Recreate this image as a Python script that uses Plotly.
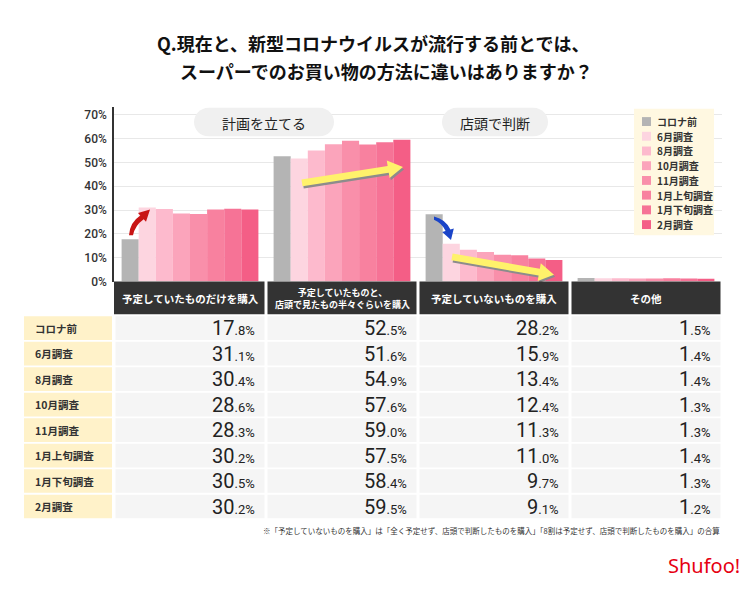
import plotly.graph_objects as go

W, H = 750, 589

# ---------------- data ----------------
categories = ["予定していたものだけを購入",
              "予定していたものと、店頭で見たもの半々ぐらいを購入",
              "予定していないものを購入",
              "その他"]
header_labels = ["予定していたものだけを購入",
                 "予定していたものと、<br>店頭で見たもの半々ぐらいを購入",
                 "予定していないものを購入",
                 "その他"]
periods = ["コロナ前", "6月調査", "8月調査", "10月調査", "11月調査",
           "1月上旬調査", "1月下旬調査", "2月調査"]
v_pre = [17.8, 52.5, 28.2, 1.5]
v_jun = [31.1, 51.6, 15.9, 1.4]
v_aug = [30.4, 54.9, 13.4, 1.4]
v_oct = [28.6, 57.6, 12.4, 1.3]
v_nov = [28.3, 59.0, 11.3, 1.3]
v_jan1 = [30.2, 57.5, 11.0, 1.4]
v_jan2 = [30.5, 58.4, 9.7, 1.3]
v_feb = [30.2, 59.5, 9.1, 1.2]
series = [v_pre, v_jun, v_aug, v_oct, v_nov, v_jan1, v_jan2, v_feb]
colors = ["#B4B4B4", "#FDD5E0", "#FDBACD", "#FBA4BB", "#F98FAA",
          "#F8819F", "#F67396", "#F45E86"]
ytick_vals = [0, 10, 20, 30, 40, 50, 60, 70]
ytick_text = ["0%", "10%", "20%", "30%", "40%", "50%", "60%", "70%"]
title_lines = ["Q.現在と、新型コロナウイルスが流行する前とでは、",
               "スーパーでのお買い物の方法に違いはありますか？"]
group_tags = ["計画を立てる", "店頭で判断"]
footnote = ("※「予定していないものを購入」は「全く予定せず、店頭で判断したものを購入」"
            "「8割は予定せず、店頭で判断したものを購入」の合算")

# ---------------- layout geometry (pixels) ----------------
PX0, PX1 = 114, 722          # plot area x
PY0, PYT = 285, 108          # 0% line, axis top
YMAX = 73.3
SLOT = (PX1 - PX0) / len(categories)
HDR_B = 318
ROW_T, ROW_P, ROW_H = 320, 25.8, 24
LAB_X0, LAB_X1 = 24, 112

CJK = "Noto Sans CJK JP"
NUM = "Roboto"


def px(x):
    return x / W


def py(y):
    return 1 - y / H


def pt(x, y):
    return f"{px(x):.5f},{py(y):.5f}"


fig = go.Figure()
for name, vals, col in zip(periods, series, colors):
    fig.add_trace(go.Bar(x=categories, y=vals, name=name, marker_color=col,
                         marker_line_width=0, showlegend=False,
                         hovertemplate="%{x}<br>" + name + ": %{y}%<extra></extra>"))

shapes = []
annotations = []

# title
annotations.append(dict(text=title_lines[0], x=px(155), y=py(44), xref="paper", yref="paper",
                        xanchor="left", yanchor="middle", showarrow=False,
                        font=dict(family=CJK, size=18, color="#111111", weight="bold")))
annotations.append(dict(text=title_lines[1], x=px(178), y=py(72), xref="paper", yref="paper",
                        xanchor="left", yanchor="middle", showarrow=False,
                        font=dict(family=CJK, size=18, color="#111111", weight="bold")))


# pills
def pill_path(x0, y0, x1, y1):
    r = (y1 - y0) / 2
    k = 0.5523 * r
    ym = (y0 + y1) / 2
    return (f"M {pt(x0 + r, y0)} L {pt(x1 - r, y0)} "
            f"C {pt(x1 - r + k, y0)} {pt(x1, ym - k)} {pt(x1, ym)} "
            f"C {pt(x1, ym + k)} {pt(x1 - r + k, y1)} {pt(x1 - r, y1)} "
            f"L {pt(x0 + r, y1)} "
            f"C {pt(x0 + r - k, y1)} {pt(x0, ym + k)} {pt(x0, ym)} "
            f"C {pt(x0, ym - k)} {pt(x0 + r - k, y0)} {pt(x0 + r, y0)} Z")


for (x0, x1), tag in zip([(194, 334), (442, 548)], group_tags):
    shapes.append(dict(type="path", path=pill_path(x0, 109, x1, 138), xref="paper", yref="paper",
                       fillcolor="#F0F0F0", line=dict(width=0), layer="above"))
    annotations.append(dict(text=tag, x=px((x0 + x1) / 2), y=py(124), xref="paper", yref="paper",
                            showarrow=False, xanchor="center", yanchor="middle",
                            font=dict(family=CJK, size=14, color="#222222")))

# legend box
shapes.append(dict(type="rect", x0=px(634), x1=px(714), y0=py(110), y1=py(238),
                   xref="paper", yref="paper", fillcolor="#FFF8E1", line=dict(width=0), layer="above"))
for i, (name, col) in enumerate(zip(periods, colors)):
    yc = 123 + i * 14.9
    shapes.append(dict(type="rect", x0=px(642), x1=px(651), y0=py(yc - 4.5), y1=py(yc + 4.5),
                       xref="paper", yref="paper", fillcolor=col, line=dict(width=0), layer="above"))
    annotations.append(dict(text=name, x=px(655), y=py(yc), xref="paper", yref="paper",
                            showarrow=False, xanchor="left", yanchor="middle",
                            font=dict(family=CJK, size=10, color="#333333", weight="bold")))


# arrows
def straight_arrow(tail, tip, sw, hw, hl, dx=0, dy=0):
    import math
    tx, ty = tail[0] + dx, tail[1] + dy
    hx, hy = tip[0] + dx, tip[1] + dy
    L = math.hypot(hx - tx, hy - ty)
    ux, uy = (hx - tx) / L, (hy - ty) / L
    nx, ny = -uy, ux
    bx, by = hx - ux * hl, hy - uy * hl
    p = [(tx + nx * sw / 2, ty + ny * sw / 2), (bx + nx * sw / 2, by + ny * sw / 2),
         (bx + nx * hw / 2, by + ny * hw / 2), (hx, hy),
         (bx - nx * hw / 2, by - ny * hw / 2), (bx - nx * sw / 2, by - ny * sw / 2),
         (tx - nx * sw / 2, ty - ny * sw / 2)]
    return "M " + " L ".join(pt(a, b) for a, b in p) + " Z"


for tail, tip in [((302, 185), (403, 169)), ((452, 260), (554, 278))]:
    shapes.append(dict(type="path", path=straight_arrow(tail, tip, 7, 18, 15, 1.2, 2.2),
                       xref="paper", yref="paper", fillcolor="#8C8C8C", line=dict(width=0), layer="above"))
    shapes.append(dict(type="path", path=straight_arrow(tail, tip, 7, 18, 15),
                       xref="paper", yref="paper", fillcolor="#FFF26B", line=dict(width=0), layer="above"))

red_path = (f"M {pt(129, 238)} Q {pt(130, 225)} {pt(140.3, 218.2)} L {pt(138, 215.6)} "
            f"L {pt(150, 212)} L {pt(146, 224.4)} L {pt(143.7, 221.8)} "
            f"Q {pt(135, 228)} {pt(133, 238)} Z")
shapes.append(dict(type="path", path=red_path, xref="paper", yref="paper",
                   fillcolor="#C81414", line=dict(width=0), layer="above"))
blue_path = (f"M {pt(434, 219)} Q {pt(446, 222)} {pt(450.4, 232.3)} L {pt(453.8, 231.3)} "
             f"L {pt(451, 243)} L {pt(442.2, 234.7)} L {pt(445.6, 233.7)} "
             f"Q {pt(442, 226)} {pt(434, 222.5)} Z")
shapes.append(dict(type="path", path=blue_path, xref="paper", yref="paper",
                   fillcolor="#1A44C8", line=dict(width=0), layer="above"))

# header row (x-axis categories)
for i, (cat, lab) in enumerate(zip(categories, header_labels)):
    x0 = PX0 + i * SLOT + (1.5 if i > 0 else 0)
    x1 = PX0 + (i + 1) * SLOT - 1.5
    shapes.append(dict(type="rect", x0=px(x0), x1=px(x1), y0=py(PY0), y1=py(HDR_B),
                       xref="paper", yref="paper", fillcolor="#333333", line=dict(width=0), layer="above"))
    annotations.append(dict(text=lab, x=cat, xref="x", y=py((PY0 + HDR_B) / 2 + 0.5), yref="paper",
                            showarrow=False, xanchor="center", yanchor="middle",
                            font=dict(family=CJK, size=9 if "<br>" in lab else 10.5,
                                      color="white", weight="bold")))

# table body
for r, (name, vals) in enumerate(zip(periods, series)):
    yt = ROW_T + r * ROW_P
    yb = yt + ROW_H
    yc = (yt + yb) / 2
    shapes.append(dict(type="rect", x0=px(LAB_X0), x1=px(LAB_X1), y0=py(yt), y1=py(yb),
                       xref="paper", yref="paper", fillcolor="#FFF2C9", line=dict(width=0), layer="above"))
    annotations.append(dict(text=name, x=px(LAB_X0 + 9), y=py(yc), xref="paper", yref="paper",
                            showarrow=False, xanchor="left", yanchor="middle",
                            font=dict(family=CJK, size=10.5, color="#333333", weight="bold")))
    for i, (cat, v) in enumerate(zip(categories, vals)):
        x0 = PX0 + i * SLOT + 1.5
        x1 = PX0 + (i + 1) * SLOT - 1.5
        shapes.append(dict(type="rect", x0=px(x0), x1=px(x1), y0=py(yt), y1=py(yb),
                           xref="paper", yref="paper", fillcolor="#F5F5F5", line=dict(width=0), layer="above"))
        ip, dp = f"{v:.1f}".split(".")
        annotations.append(dict(text=f"{ip}<span style='font-size:13px'>.{dp}%</span>",
                                x=i + 0.5, xref="x", xshift=-9.5, y=py(yc), yref="paper",
                                showarrow=False, xanchor="right", yanchor="middle",
                                font=dict(family=NUM, size=20, color="#222222")))

# footnote & logo
annotations.append(dict(text=footnote, x=px(722), y=py(537), xref="paper", yref="paper",
                        showarrow=False, xanchor="right", yanchor="middle",
                        font=dict(family=CJK, size=7.5, color="#333333")))
annotations.append(dict(text="Shufoo!", x=px(742), y=py(572), xref="paper", yref="paper",
                        showarrow=False, xanchor="right", yanchor="middle",
                        font=dict(family="Noto Sans", size=20, color="#E60012")))

fig.update_layout(
    width=W, height=H, margin=dict(l=0, r=0, t=0, b=0),
    paper_bgcolor="white", plot_bgcolor="white",
    barmode="group", bargap=0.1, bargroupgap=0,
    shapes=shapes, annotations=annotations,
    xaxis=dict(domain=[px(PX0), px(PX1)], range=[-0.5, 3.5], showticklabels=False,
               showline=False, showgrid=False, zeroline=False, fixedrange=True),
    yaxis=dict(domain=[py(PY0), py(PYT)], range=[0, YMAX], tickmode="array",
               tickvals=ytick_vals, ticktext=ytick_text,
               showline=True, linecolor="#333333", linewidth=1.5,
               gridcolor="#E8E8E8", zeroline=False, ticks="", ticklabelstandoff=3,
               tickfont=dict(family=NUM, size=12, color="#333333", weight=500), fixedrange=True),
    showlegend=False,
)

fig.write_html("out.html")
